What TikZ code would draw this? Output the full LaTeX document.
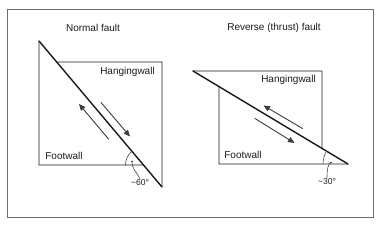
\documentclass[tikz,border=0pt]{standalone}
\usepackage{fontspec}
\setmainfont{Liberation Sans}
\usetikzlibrary{arrows.meta,calc}
\definecolor{ink}{HTML}{1A1A1A}
\definecolor{framegray}{HTML}{6E6E6E}
\tikzset{
  fault diagram/.style={
    x=1pt,
    y=-1pt,
    line cap=round,
    line join=miter
  },
  blockline/.style={
    draw=ink,
    line width=0.9pt
  },
  faultline/.style={
    draw=ink,
    line width=1.4pt
  },
  slip/.style={
    -{Triangle[length=6.5pt,width=5.5pt]},
    draw=ink!85,
    line width=0.9pt
  },
  walllabel/.style={
    font=\fontsize{10}{12}\selectfont,
    text=ink,
    inner sep=0pt
  },
  anglelabel/.style={
    font=\fontsize{8.5}{10}\selectfont,
    text=ink,
    inner sep=1pt
  },
  leader/.style={
    draw=ink!80,
    line width=0.6pt
  }
}

\begin{document}
\begin{tikzpicture}[fault diagram]
\useasboundingbox (0,0) rectangle (380,229);
\draw[framegray, line width=0.9pt] (7,9) rectangle (373,217);

% normal fault
\node[walllabel] (ntitle) at (93,28) {Normal fault};
\coordinate (ntop) at (39,41);
\coordinate (nbot) at (162,187);
\coordinate (nhw) at ($(ntop)!0.1438!(nbot)$);
\coordinate (nfw) at ($(ntop)!0.8493!(nbot)$);
\draw[blockline] (ntop) -- (39,165) -- (nfw);
\draw[blockline] (nhw) -- (162,62) -- (nbot);
\draw[faultline] (ntop) -- (nbot);
\node[walllabel] (nhang) at (127.5,72) {Hangingwall};
\node[walllabel] (nfoot) at (64,156) {Footwall};
\coordinate (nfwtail) at (108.5,139);
\coordinate (nfwtip) at (79,104);
\coordinate (nhwtail) at (101,102.5);
\coordinate (nhwtip) at (130,136.5);
\draw[slip] (nfwtail) -- (nfwtip);
\draw[slip] (nhwtail) -- (nhwtip);
\draw[leader] ($(nfw)+(-18,0)$) arc[start angle=180, end angle=230, radius=18];
\coordinate (ndot) at (132,161.5);
\fill[ink] (ndot) circle[radius=0.9];
\node[anglelabel] (nangle) at (140,183) {\textasciitilde60°};
\draw[leader] (ndot) .. controls (132,169) and (136,171) .. (nangle.north);

% reverse fault
\node[walllabel] (rtitle) at (274,28) {Reverse (thrust) fault};
\coordinate (rtop) at (193,71);
\coordinate (rbot) at (348,164);
\coordinate (rhw) at ($(rtop)!0.832!(rbot)$);
\coordinate (rfw) at ($(rtop)!0.1677!(rbot)$);
\draw[blockline] (rtop) -- (322,71) -- (rhw);
\draw[blockline] (rfw) -- (219,164) -- (rbot);
\draw[faultline] (rtop) -- (rbot);
\node[walllabel] (rhang) at (288.5,80) {Hangingwall};
\node[walllabel] (rfoot) at (243,155) {Footwall};
\coordinate (rhwtail) at (302.5,128.5);
\coordinate (rhwtip) at (263.5,105.5);
\coordinate (rfwtail) at (255,118.5);
\coordinate (rfwtip) at (294.5,143);
\draw[slip] (rhwtail) -- (rhwtip);
\draw[slip] (rfwtail) -- (rfwtip);
\draw[leader] ($(rbot)+(-25,0)$) arc[start angle=180, end angle=211, radius=25];
\coordinate (rdot) at (331,162.5);
\fill[ink] (rdot) circle[radius=0.9];
\node[anglelabel] (rangle) at (327,182) {\textasciitilde30°};
\draw[leader] (rdot) .. controls (328,164) and (327,169) .. (rangle.north);
\end{tikzpicture}
\end{document}
